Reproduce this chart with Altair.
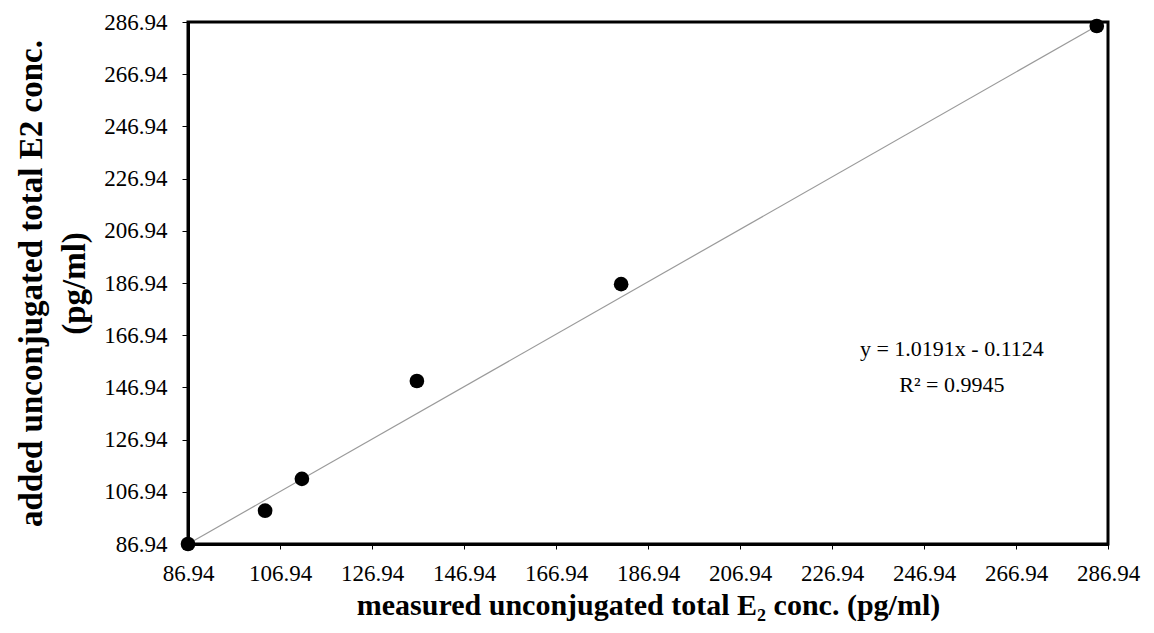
import altair as alt
import pandas as pd

# data
measured = [86.94, 103.7, 111.7, 136.7, 181.1, 284.5]
added = [86.94, 99.7, 111.9, 149.4, 186.5, 285.4]

trend_x = [86.94, 284.5]
trend_y = [86.94, 285.4]

ticks = [86.94, 106.94, 126.94, 146.94, 166.94, 186.94, 206.94, 226.94, 246.94, 266.94, 286.94]

eq_text = ["y = 1.0191x - 0.1124", "R² = 0.9945"]
eq_x = [253.0, 253.0]
eq_y = [161.5, 148.0]

FONT = "Liberation Serif"

pts = pd.DataFrame({"x": measured, "y": added})
trend = pd.DataFrame({"x": trend_x, "y": trend_y})
eq = pd.DataFrame({"x": eq_x, "y": eq_y, "t": eq_text})

xs = alt.Scale(domain=[86.94, 286.94], nice=False, zero=False)
ys = alt.Scale(domain=[86.94, 286.94], nice=False, zero=False)

xaxis = alt.Axis(
    values=ticks, format=".2f", title="measured unconjugated total E₂ conc. (pg/ml)",
    grid=False, tickSize=5, labelPadding=13, labelFontSize=23, labelFont=FONT,
    labelColor="black", titleFont=FONT, titleFontSize=30, titleFontWeight="bold",
    titleColor="black", titlePadding=5, domainColor="black", domainWidth=3,
    tickColor="black", labelFlush=False, labelOverlap=False,
)
yaxis = alt.Axis(
    values=ticks, format=".2f", title=["added unconjugated total E2 conc.", "(pg/ml)"],
    grid=False, tickSize=6, labelPadding=15, labelFontSize=23, labelFont=FONT,
    labelColor="black", titleFont=FONT, titleFontSize=33, titleFontWeight="bold",
    titleColor="black", titlePadding=12, titleLineHeight=43, domainColor="black",
    domainWidth=3, tickColor="black", labelFlush=False, labelOverlap=False,
)

line = alt.Chart(trend).mark_line(color="#9a9a9a", strokeWidth=1.2).encode(
    x=alt.X("x:Q", scale=xs, axis=xaxis),
    y=alt.Y("y:Q", scale=ys, axis=yaxis),
)

points = alt.Chart(pts).mark_circle(color="black", opacity=1, size=215).encode(
    x=alt.X("x:Q", scale=xs),
    y=alt.Y("y:Q", scale=ys),
)

label = alt.Chart(eq).mark_text(font=FONT, fontSize=22, color="black", align="center", baseline="middle").encode(
    x=alt.X("x:Q", scale=xs),
    y=alt.Y("y:Q", scale=ys),
    text="t:N",
)

chart = alt.layer(line, points, label).properties(
    width=920, height=522,
    autosize=alt.AutoSizeParams(type="none"),
    padding={"left": 180, "top": 14, "right": 36, "bottom": 81},
    background="white",
).configure_view(stroke="black", strokeWidth=3)

chart.save("out.html", embed_options={"renderer": "svg", "actions": False})
